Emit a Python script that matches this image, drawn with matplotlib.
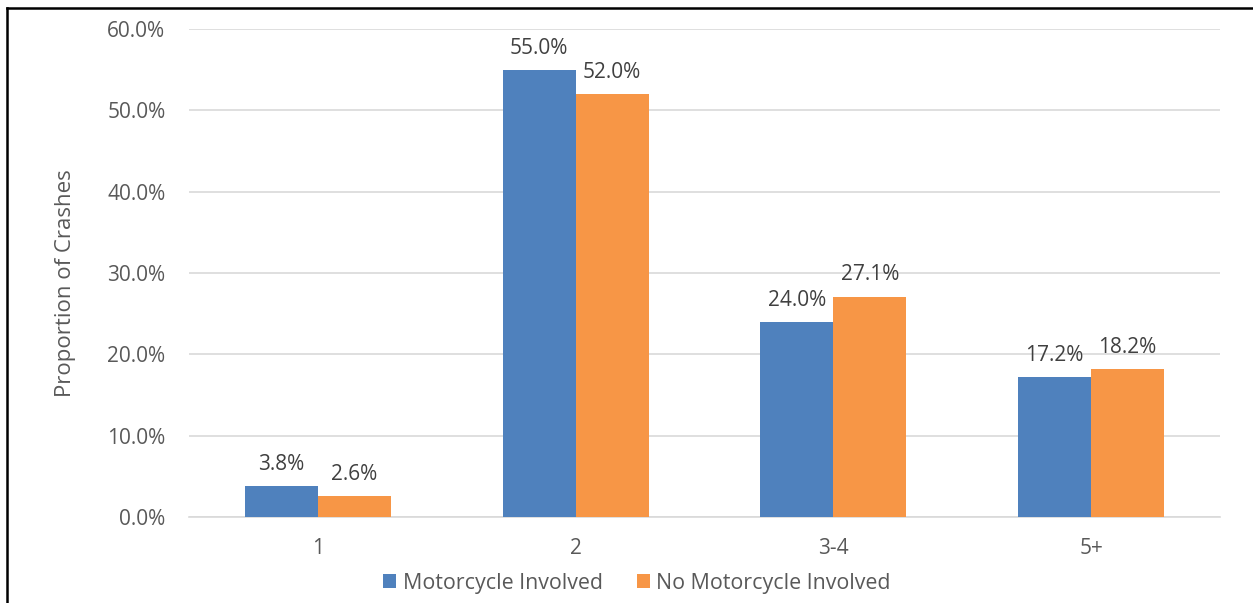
import matplotlib
matplotlib.use("Agg")
import matplotlib.pyplot as plt
from matplotlib.lines import Line2D
import numpy as np

categories = ["1", "2", "3-4", "5+"]
motorcycle = [3.8, 55.0, 24.0, 17.2]
no_motorcycle = [2.6, 52.0, 27.1, 18.2]
series_names = ["Motorcycle Involved", "No Motorcycle Involved"]

plt.rcParams['font.family'] = ['Open Sans', 'DejaVu Sans']
txt = '#595959'
blue = '#4F81BD'
orange = '#F79646'

W, H = 1253, 603
fig = plt.figure(figsize=(W/100, H/100), dpi=100)
ax = fig.add_axes([189/W, 1 - 517/H, (1220-189)/W, (517-29)/H])

x = np.arange(len(categories))
bw = 0.283
b1 = ax.bar(x - bw/2, motorcycle, bw, color=blue, label=series_names[0], zorder=3)
b2 = ax.bar(x + bw/2, no_motorcycle, bw, color=orange, label=series_names[1], zorder=3)
for bars, vals in ((b1, motorcycle), (b2, no_motorcycle)):
    for r, v in zip(bars, vals):
        ax.annotate(f"{v:.1f}%", (r.get_x() + r.get_width()/2, v), xytext=(0, 8),
                    textcoords='offset points', ha='center', va='bottom',
                    fontsize=15, color='#404040')

ax.set_xlim(-0.5, 3.5)
ax.set_ylim(0, 60)
ax.set_yticks(np.arange(0, 61, 10))
ax.set_yticklabels([f"{v:.1f}%" for v in np.arange(0, 61, 10)])
ax.set_xticks(x)
ax.set_xticklabels(categories)
ax.tick_params(axis='both', length=0, colors=txt, labelsize=15)
ax.tick_params(axis='y', pad=17)
ax.tick_params(axis='x', pad=15)
ax.grid(axis='y', color='#D9D9D9', linewidth=1.2, zorder=0)
for s in ['top', 'right', 'left']:
    ax.spines[s].set_visible(False)
ax.spines['bottom'].set_color('#D9D9D9')
ax.spines['bottom'].set_linewidth(1.2)
ax.set_ylabel("Proportion of Crashes", color=txt, fontsize=16)
ax.yaxis.set_label_coords((76 - 189) / (1220 - 189), 0.48)

leg = fig.legend(handles=[b1, b2], loc='center', bbox_to_anchor=(637/W, 1 - 583/H),
                 ncol=2, frameon=False, fontsize=15.4, handlelength=0.6, handleheight=0.6,
                 handletextpad=0.3, columnspacing=1.6, labelcolor=txt)

fig.add_artist(Line2D([6.5/W, 6.5/W], [0, 1 - 8/H], color='black', linewidth=1.8, transform=fig.transFigure))
fig.add_artist(Line2D([6.5/W, 1], [1 - 8/H, 1 - 8/H], color='black', linewidth=1.8, transform=fig.transFigure))

fig.savefig("out.png", dpi=100)
